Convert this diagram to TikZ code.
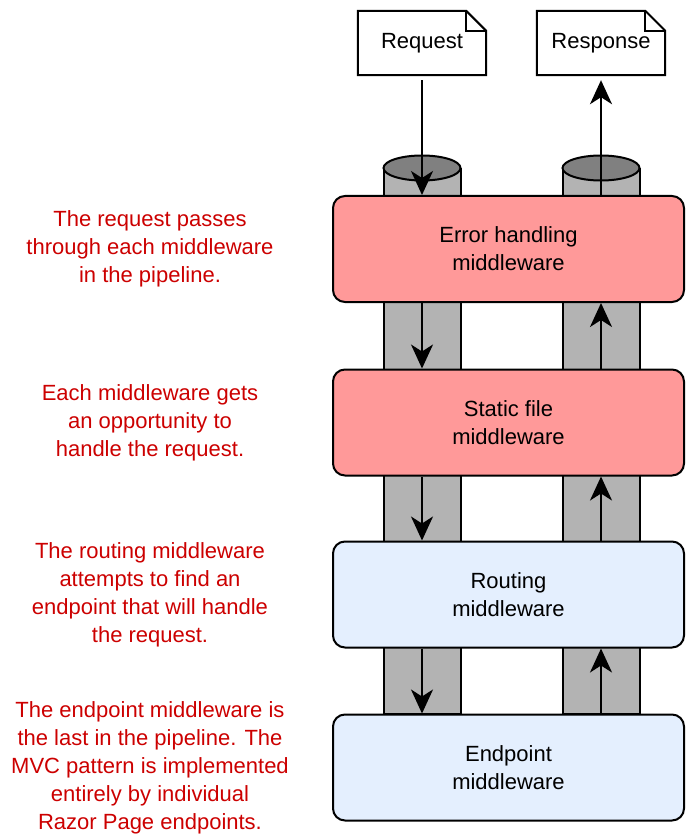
\documentclass[tikz,border=0pt]{standalone}
\usepackage{fontspec}
\setmainfont{Liberation Sans}
\usetikzlibrary{arrows.meta}

\definecolor{mwred}{HTML}{FF9999}
\definecolor{mwblue}{HTML}{E4EFFE}
\definecolor{pipegray}{HTML}{B3B3B3}
\definecolor{pipetop}{HTML}{808080}
\definecolor{notered}{HTML}{CC0000}

\tikzset{
  mwbox/.style={draw, line width=2pt, rounded corners=12pt, minimum width=351pt,
    minimum height=106pt, align=center, font=\fontsize{22}{28}\selectfont},
  docbox/.style={fill=white, minimum width=128pt, minimum height=64pt, inner sep=0pt,
    font=\fontsize{22}{28}\selectfont},
  note/.style={text=notered, align=center, font=\fontsize{22}{28}\selectfont},
  flow/.style={line width=2pt, -{Stealth[length=24pt,width=22pt,inset=7pt]}},
}

\begin{document}
\begin{tikzpicture}[x=1pt,y=-1pt]
  \useasboundingbox (0,0) rectangle (685,834);

  % Pipes behind the middleware boxes
  \foreach \px in {422,601} {
    \draw[line width=2pt, fill=pipegray] (\px-38.5,168) -- (\px-38.5,714) -- (\px+38.5,714) -- (\px+38.5,168);
    \draw[line width=2pt, fill=pipetop] (\px,168) ellipse [x radius=38.5, y radius=12.5];
  }

  % Request and response documents
  \node[docbox] (req) at (422,43) {Request};
  \node[docbox] (resp) at (601,43) {Response};
  \foreach \d in {req,resp} {
    \draw[line width=2pt] (\d.north west) -- ([xshift=-20pt]\d.north east)
      -- ([yshift=-20pt]\d.north east) -- (\d.south east) -- (\d.south west) -- cycle;
    \draw[line width=2pt] ([xshift=-20pt]\d.north east) |- ([yshift=-20pt]\d.north east);
  }

  % Middleware pipeline
  \node[mwbox, fill=mwred] (err) at (508.5,249) {Error handling\\middleware};
  \node[mwbox, fill=mwred] (static) at (508.5,422.5) {Static file\\middleware};
  \node[mwbox, fill=mwblue] (routing) at (508.5,594.5) {Routing\\middleware};
  \node[mwbox, fill=mwblue] (endpoint) at (508.5,767.5) {Endpoint\\middleware};

  % Request goes down, response comes back up
  \draw[flow] ([yshift=-5pt]req.south) -- (err.north -| req.south);
  \draw[flow] (err.south -| req.south) -- (static.north -| req.south);
  \draw[flow] (static.south -| req.south) -- (routing.north -| req.south);
  \draw[flow] (routing.south -| req.south) -- (endpoint.north -| req.south);
  \draw[flow] (endpoint.north -| resp.south) -- (routing.south -| resp.south);
  \draw[flow] (routing.north -| resp.south) -- (static.south -| resp.south);
  \draw[flow] (static.north -| resp.south) -- (err.south -| resp.south);
  \draw[flow] (err.north -| resp.south) -- ([yshift=-5pt]resp.south);

  % Notes
  \coordinate (notecol) at (150,0);
  \node[note] (n1) at (notecol |- err) {The request passes\\through each middleware\\in the pipeline.};
  \node[note] (n2) at (notecol |- static) {Each middleware gets\\an opportunity to\\handle the request.};
  \node[note] (n3) at (notecol |- routing) {The routing middleware\\attempts to find an\\endpoint that will handle\\the request.};
  \node[note] (n4) at (notecol |- endpoint) {The endpoint middleware is\\the last in the pipeline. The\\MVC pattern is implemented\\entirely by individual\\Razor Page endpoints.};
\end{tikzpicture}
\end{document}
